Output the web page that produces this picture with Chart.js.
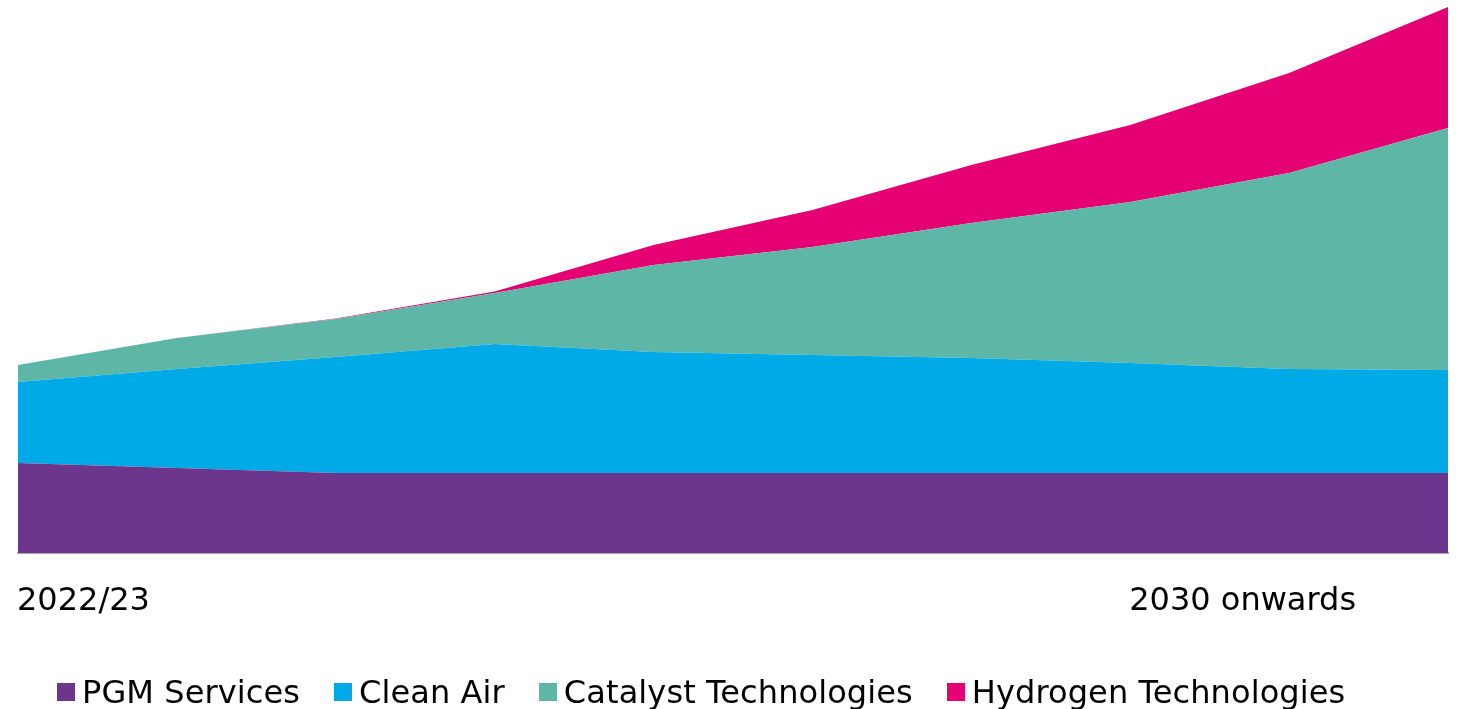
<!DOCTYPE html>
<html>
<head>
<meta charset="utf-8">
<script src="https://cdn.jsdelivr.net/npm/chart.js@4"></script>
<style>
  html, body { margin: 0; padding: 0; background: #fff; overflow: hidden; }
  #wrap { position: relative; width: 1458px; height: 709px; }
  #c { display: block; }
  #legend { position: absolute; left: 57px; top: 676px; display: flex; align-items: center;
            font-family: "DejaVu Sans", Verdana, sans-serif; font-size: 32px; line-height: 32px; color: #000; white-space: nowrap; letter-spacing: 0.1px; }
  .item { display: flex; align-items: center; margin-right: 34px; }
  .box { width: 18px; height: 18px; margin-right: 7px; }
</style>
</head>
<body>
<div id="wrap">
  <canvas id="c"></canvas>
  <div id="legend"></div>
</div>
<script>
const categories = ['2022/23', '', '', '', '', '', '', '2030 onwards', '', ''];
const seriesNames = ['PGM Services', 'Clean Air', 'Catalyst Technologies', 'Hydrogen Technologies'];
const seriesColors = ['#6C368C', '#00AAE6', '#5EB6A7', '#E50073'];
const pgmServices = [90, 85, 80, 80, 80, 80, 80, 80, 80, 80];
const cleanAir = [81, 99, 116, 129, 121, 118, 115, 110, 104, 103];
const catalystTech = [17, 31, 38, 51, 87, 108, 135, 161, 196, 242];
const hydrogenTech = [0, 0, 0.5, 1.5, 20, 37, 58, 77, 100, 121];
const yMax = 546;

const seriesData = [pgmServices, cleanAir, catalystTech, hydrogenTech];

const datasets = seriesData.map((d, i) => ({
  label: seriesNames[i],
  data: d,
  backgroundColor: seriesColors[i],
  borderColor: seriesColors[i],
  borderWidth: 0,
  pointRadius: 0,
  tension: 0,
  fill: i === 0 ? 'origin' : '-1'
}));

new Chart(document.getElementById('c'), {
  type: 'line',
  data: { labels: categories, datasets },
  options: {
    responsive: true,
    maintainAspectRatio: false,
    animation: false,
    layout: { padding: { top: 7, left: 18, right: 10, bottom: 0 } },
    plugins: { legend: { display: false }, tooltip: { enabled: false } },
    scales: {
      x: {
        offset: false,
        grid: { display: true, drawOnChartArea: false, drawTicks: false, color: 'rgba(0,0,0,0)' },
        border: { display: true, color: '#A6A6A6', width: 2 },
        ticks: {
          autoSkip: false, maxRotation: 0, minRotation: 0, align: 'start', padding: 29, labelOffset: -1,
          color: '#000', font: { family: '"DejaVu Sans", Verdana, sans-serif', size: 32 }
        },
        afterFit: (scale) => { scale.height = 156; scale.paddingLeft = 0; scale.paddingRight = 0; }
      },
      y: { display: false, stacked: true, min: 0, max: yMax }
    }
  }
});

const legend = document.getElementById('legend');
seriesNames.forEach((n, i) => {
  const it = document.createElement('div'); it.className = 'item';
  const b = document.createElement('span'); b.className = 'box'; b.style.background = seriesColors[i];
  const t = document.createElement('span'); t.textContent = n;
  it.appendChild(b); it.appendChild(t); legend.appendChild(it);
});
</script>
</body>
</html>
